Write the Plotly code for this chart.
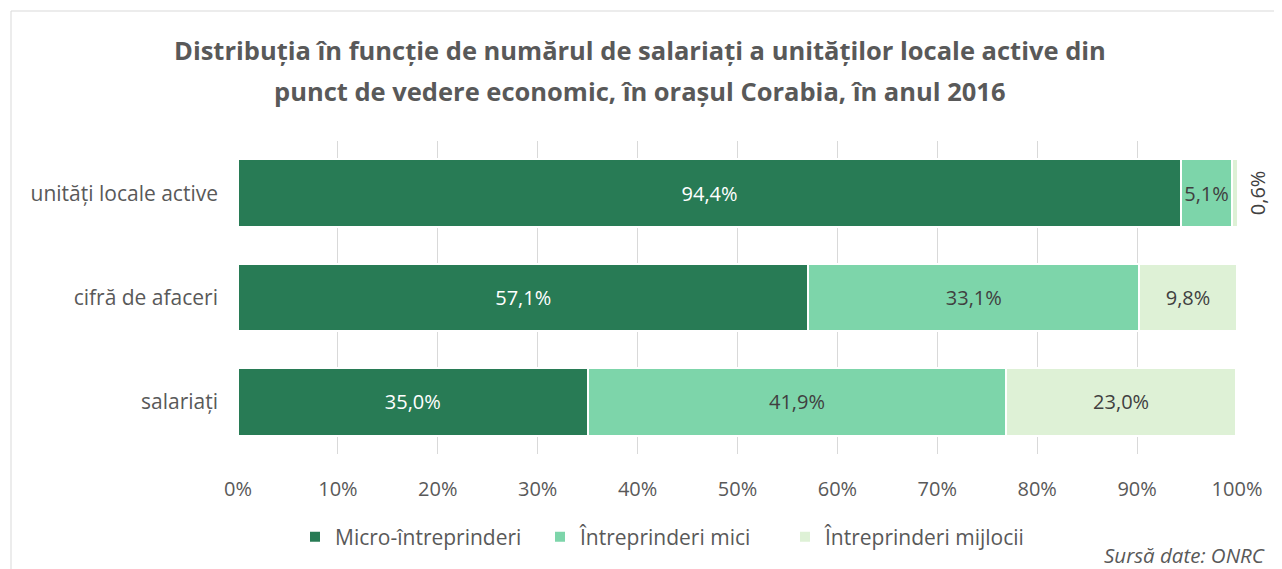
import plotly.graph_objects as go

categories = ["unități locale active", "cifră de afaceri", "salariați"]
series_names = ["Micro-întreprinderi", "Întreprinderi mici", "Întreprinderi mijlocii"]
micro = [94.4, 57.1, 35.0]
mici = [5.1, 33.1, 41.9]
mijlocii = [0.6, 9.8, 23.0]
tick_vals = [0, 10, 20, 30, 40, 50, 60, 70, 80, 90, 100]
tick_text = [f"{v}%" for v in tick_vals]
title_lines = ["Distribuția în funcție de numărul de salariați a unităților locale active din",
               "punct de vedere economic, în orașul Corabia, în anul 2016"]

colors = ["#287B55", "#7DD5AA", "#DEF1D6"]
text_colors = ["white", "#404040", "#404040"]
FONT = "Open Sans"
GRAY = "#595959"

OFF = 8  # page body margin
W, H = 1282 - OFF, 569 - OFF
L, R, T, B = 238 - OFF, 1282 - 1237, 141 - OFF, 569 - 454

def fmt(v):
    return f"{v:.1f}%".replace(".", ",")

fig = go.Figure()
for name, vals, col, tcol in zip(series_names, [micro, mici, mijlocii], colors, text_colors):
    texts = [fmt(v) if v >= 3 else "" for v in vals]
    fig.add_trace(go.Bar(
        y=categories, x=vals, name=name, orientation="h",
        marker=dict(color=col, line=dict(color="white", width=2)),
        text=texts, textposition="inside", insidetextanchor="middle",
        textangle=0,
        textfont=dict(family=FONT, size=20, color=tcol),
        hoverinfo="x+name",
    ))

# small-value label rotated outside the bar (anchored at the start of the small segment)
for cat, a, b, c in zip(categories, micro, mici, mijlocii):
    if c < 3:
        fig.add_annotation(x=a + b, y=cat, text=fmt(c), showarrow=False,
                           textangle=-90, xanchor="center", xshift=25,
                           font=dict(family=FONT, size=20, color="#404040"))

pw = W - L - R
ph = H - T - B
def px(x):
    return (x - OFF - L) / pw
def py(y):
    return (H - B - (y - OFF)) / ph

# chart border
fig.add_shape(type="rect", xref="paper", yref="paper",
              x0=px(11), x1=px(1295), y0=py(11), y1=py(580),
              line=dict(color="#D9D9D9", width=1), fillcolor="rgba(0,0,0,0)", layer="below")

for line, yy in zip(title_lines, [50, 91]):
    fig.add_annotation(xref="paper", yref="paper", x=px(640), y=py(yy),
                       text=f"<b>{line}</b>", showarrow=False,
                       xanchor="center", yanchor="middle",
                       font=dict(family=FONT, size=25.5, color=GRAY))

fig.add_annotation(xref="paper", yref="paper", x=px(1267), y=py(555),
                   text="<i>Sursă date: ONRC</i>", showarrow=False,
                   xanchor="right", yanchor="middle",
                   font=dict(family=FONT, size=20.5, color=GRAY))

fig.update_layout(
    width=W, height=H,
    barmode="stack", bargap=0.35,
    paper_bgcolor="white", plot_bgcolor="white",
    margin=dict(l=L, r=R, t=T, b=B, autoexpand=False),
    xaxis=dict(range=[0, 100], tickvals=tick_vals, ticktext=tick_text,
               showgrid=True, gridcolor="#D9D9D9", gridwidth=1, zeroline=False,
               showline=False, ticks="", ticklabelstandoff=21,
               tickfont=dict(family=FONT, size=20, color=GRAY)),
    yaxis=dict(autorange="reversed", showgrid=False, ticks="", ticklen=0,
               ticklabelstandoff=19,
               tickfont=dict(family=FONT, size=21, color=GRAY)),
    legend=dict(orientation="h", x=px(295), xanchor="left", y=py(537), yanchor="middle",
                font=dict(family=FONT, size=21, color=GRAY), traceorder="normal",
                itemwidth=30, entrywidth=200, entrywidthmode="pixels"),
    showlegend=True,
)

fig.write_html("out.html")
